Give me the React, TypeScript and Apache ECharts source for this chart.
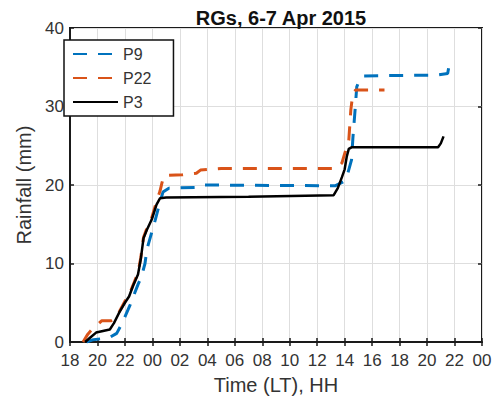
import React, { useEffect, useRef } from "react";
import * as echarts from "echarts";

const titleText = "RGs, 6-7 Apr 2015";
const xAxisName = "Time (LT), HH";
const yAxisName = "Rainfall (mm)";
const seriesNames = ["P9", "P22", "P3"];
const seriesColors = ["#0072BD", "#D95319", "#000000"];

// hours since 00 on 6 Apr (values > 24 are 7 Apr)
const p9Hours = [19.2, 19.7, 20.2, 20.9, 21.4, 21.8, 22.37, 22.5, 22.97, 23.2, 23.46, 23.6, 24.2, 24.5, 24.77, 25.2, 27.3, 27.6, 37.3, 37.9, 38.15, 38.5, 38.6, 38.76, 38.88, 39.1, 39.4, 44.7, 45.5, 45.7];
const p9Rain = [0, 0.3, 0.4, 0.6, 1.1, 2.4, 4.7, 5.3, 7.4, 8.3, 10, 11.8, 15.5, 17.5, 19.1, 19.6, 19.7, 20.0, 19.9, 20.4, 21.0, 23.2, 26.0, 29.6, 32.5, 33.5, 33.9, 34.0, 34.2, 36.2];

const p22Hours = [18.95, 19.3, 19.6, 20.0, 20.3, 21.0, 21.3, 21.6, 22.0, 22.3, 22.6, 22.95, 23.15, 23.35, 23.6, 23.95, 24.3, 24.55, 24.7, 24.85, 26.2, 27.2, 27.5, 29.0, 37.4, 37.8, 38.0, 38.3, 38.45, 38.6, 38.8, 40.9];
const p22Rain = [0, 1.0, 1.6, 2.2, 2.7, 2.7, 3.0, 3.9, 5.2, 6.0, 7.3, 8.8, 10.7, 13.3, 14.5, 15.8, 17.9, 19.2, 20.3, 21.2, 21.3, 21.5, 21.9, 22.1, 22.1, 22.8, 24.0, 25.7, 29.6, 31.7, 32.1, 32.1];

const p3Hours = [19.1, 19.5, 19.9, 20.4, 20.9, 21.2, 21.6, 22.0, 22.3, 22.6, 22.95, 23.15, 23.35, 23.6, 23.95, 24.3, 24.55, 25.0, 31.0, 37.2, 37.5, 37.8, 38.0, 38.15, 38.3, 38.5, 44.8, 45.0, 45.2];
const p3Rain = [0, 0.6, 1.2, 1.4, 1.6, 2.4, 3.8, 5.0, 5.8, 7.2, 8.6, 10.5, 13.2, 14.3, 15.6, 17.5, 18.3, 18.4, 18.5, 18.7, 19.6, 21.0, 22.0, 23.6, 24.6, 24.8, 24.8, 25.3, 26.2];

const xMin = 18;
const xMax = 48;
const xStep = 2;
const yMin = 0;
const yMax = 40;
const yStep = 10;

const zip = (a: number[], b: number[]) => a.map((h, i) => [h, b[i]]);

const FONT = "Liberation Sans";

export default function App() {
  const ref = useRef<HTMLDivElement>(null);
  useEffect(() => {
    if (!ref.current) return;
    const chart = echarts.init(ref.current, undefined, { renderer: "svg" });
    const hourFmt = (v: number) => String(((v % 24) + 24) % 24).padStart(2, "0");
    const grid = {
      left: 70,
      right: 16,
      top: 28,
      bottom: 57,
      containLabel: false,
      outerBoundsMode: "none",
      show: true,
      borderColor: "#1a1a1a",
      borderWidth: 2,
      backgroundColor: "#fff",
    };
    const tickStyle = { show: true, inside: true, length: 4, lineStyle: { color: "#1a1a1a", width: 1.5 } };
    const data = [zip(p9Hours, p9Rain), zip(p22Hours, p22Rain), zip(p3Hours, p3Rain)];
    chart.setOption({
      animation: false,
      backgroundColor: "#fff",
      title: {
        text: titleText,
        left: 276,
        top: 3,
        textAlign: "center",
        textStyle: { fontFamily: FONT, fontSize: 20, fontWeight: "bold", color: "#111" },
      },
      grid,
      legend: {
        orient: "vertical",
        left: 64,
        top: 40,
        itemWidth: 45,
        itemHeight: 14,
        itemGap: 8,
        padding: [6, 22, 6, 8],
        backgroundColor: "#fff",
        borderColor: "#111",
        borderWidth: 1.5,
        borderRadius: 0,
        itemStyle: { opacity: 0 },
        textStyle: { fontFamily: FONT, fontSize: 16, color: "#333" },
        data: seriesNames,
        z: 10,
      },
      xAxis: [
        {
          type: "value",
          min: xMin,
          max: xMax,
          interval: xStep,
          position: "bottom",
          name: xAxisName,
          nameLocation: "middle",
          nameGap: 33,
          nameTextStyle: { fontFamily: FONT, fontSize: 20, color: "#333" },
          axisLine: { show: true, lineStyle: { color: "#1a1a1a", width: 2 } },
          axisTick: tickStyle,
          axisLabel: { formatter: hourFmt, fontFamily: FONT, fontSize: 17, color: "#333", margin: 10 },
          splitLine: { show: true, lineStyle: { color: "#dedede", width: 1 } },
        },
        {
          type: "value",
          min: xMin,
          max: xMax,
          interval: xStep,
          position: "top",
          axisLine: { show: false },
          axisTick: tickStyle,
          axisLabel: { show: false },
          splitLine: { show: false },
        },
      ],
      yAxis: [
        {
          type: "value",
          min: yMin,
          max: yMax,
          interval: yStep,
          position: "left",
          name: yAxisName,
          nameLocation: "middle",
          nameGap: 25,
          nameTextStyle: { fontFamily: FONT, fontSize: 20, color: "#333" },
          axisLine: { show: true, lineStyle: { color: "#1a1a1a", width: 2 } },
          axisTick: tickStyle,
          axisLabel: { fontFamily: FONT, fontSize: 17, color: "#333", margin: 6 },
          splitLine: { show: true, lineStyle: { color: "#dedede", width: 1 } },
        },
        {
          type: "value",
          min: yMin,
          max: yMax,
          interval: yStep,
          position: "right",
          axisLine: { show: false },
          axisTick: tickStyle,
          axisLabel: { show: false },
          splitLine: { show: false },
        },
      ],
      series: seriesNames.map((name, i) => ({
        name,
        type: "line",
        xAxisIndex: 0,
        yAxisIndex: 0,
        data: data[i],
        showSymbol: false,
        symbol: "none",
        color: seriesColors[i],
        lineStyle: {
          color: seriesColors[i],
          width: i === 2 ? 2.5 : 3,
          type: i === 2 ? "solid" : [14, 11],
        },
      })),
    });
    return () => chart.dispose();
  }, []);
  return <div ref={ref} style={{ position: "fixed", left: 0, top: 0, width: 498, height: 399 }} />;
}
